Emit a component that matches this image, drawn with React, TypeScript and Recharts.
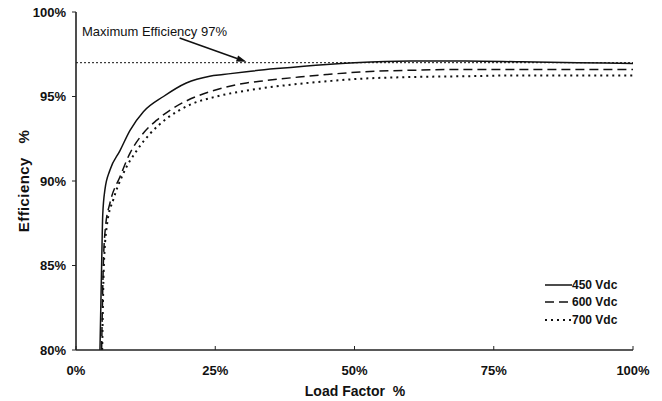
import React from "react";
import {
  LineChart,
  Line,
  XAxis,
  YAxis,
  ReferenceLine,
  Legend,
} from "recharts";

// values (load factor %, efficiency %)
const load450 = [4.3, 4.6, 4.8, 5.2, 6.1, 7.9, 9.7, 12.1, 15.7, 19.8, 24, 26.4, 30.6, 36, 45, 50, 60, 70, 80, 90, 100];
const eff450 = [80, 85, 88, 89.5, 90.65, 91.8, 93.0, 94.1, 95.0, 95.8, 96.2, 96.3, 96.47, 96.65, 96.9, 97.0, 97.1, 97.1, 97.05, 97.0, 96.95];

const load600 = [4.6, 4.9, 5.3, 6.1, 7.9, 9.7, 12, 14.5, 17.4, 21.6, 25.2, 30.6, 33, 40, 45, 51, 60, 70, 80, 90, 100];
const eff600 = [80, 85, 87.3, 88.7, 90.25, 91.65, 92.8, 93.6, 94.3, 95.0, 95.4, 95.8, 95.9, 96.15, 96.3, 96.45, 96.55, 96.6, 96.6, 96.6, 96.6];

const load700 = [4.7, 5.0, 5.6, 6.7, 8.5, 10.9, 13.3, 16.3, 20.4, 25.2, 30.6, 36, 40, 45, 51, 60, 70, 80, 90, 100];
const eff700 = [80, 85, 87.5, 88.9, 90.45, 91.8, 92.8, 93.7, 94.5, 95.0, 95.35, 95.6, 95.75, 95.9, 96.05, 96.15, 96.2, 96.25, 96.25, 96.25];

const xTicks = [0, 25, 50, 75, 100];
const yTicks = [80, 85, 90, 95, 100];
const maxEfficiency = 97;
// annotation arrow, in data units
const arrowFrom = { x: 18.6, y: 98.46 };
const arrowTo = { x: 30.6, y: 97.05 };

const toPoints = (xs: number[], ys: number[]) =>
  xs.map((x, i) => ({ x, y: ys[i] }));

const series = [
  { name: "450 Vdc", data: toPoints(load450, eff450), dash: undefined, width: 1.5 },
  { name: "600 Vdc", data: toPoints(load600, eff600), dash: "9 5", width: 1.5 },
  { name: "700 Vdc", data: toPoints(load700, eff700), dash: "2 4", width: 2 },
];

const FONT = "Arial, 'Liberation Sans', sans-serif";
const INK = "#111";

function Arrow(props: any) {
  const { x1, y1, x2, y2 } = props;
  const ang = Math.atan2(y2 - y1, x2 - x1);
  const len = 10;
  const hw = 3.2;
  const bx = x2 - len * Math.cos(ang);
  const by = y2 - len * Math.sin(ang);
  const px = -Math.sin(ang) * hw;
  const py = Math.cos(ang) * hw;
  return (
    <g>
      <line x1={x1} y1={y1} x2={bx} y2={by} stroke={INK} strokeWidth={1.5} />
      <polygon
        points={`${x2},${y2} ${bx + px},${by + py} ${bx - px},${by - py}`}
        fill={INK}
      />
    </g>
  );
}

function LegendBox() {
  return (
    <div style={{ fontFamily: FONT, fontWeight: "bold", fontSize: 12, color: INK }}>
      {series.map((s) => (
        <div key={s.name} style={{ display: "flex", alignItems: "center", height: 17.5 }}>
          <svg width={27} height={6} style={{ display: "block" }}>
            <line
              x1={0}
              y1={3}
              x2={27}
              y2={3}
              stroke={INK}
              strokeWidth={s.width}
              strokeDasharray={s.dash}
            />
          </svg>
          <span>{s.name}</span>
        </div>
      ))}
    </div>
  );
}

export default function App() {
  return (
    <div style={{ position: "absolute", left: 0, top: 0, background: "#fff" }}>
      <LineChart
        width={662}
        height={401}
        margin={{ top: 12, right: 29, left: 0, bottom: 0 }}
      >
        <XAxis
          dataKey="x"
          type="number"
          domain={[0, 100]}
          ticks={xTicks}
          tickFormatter={(v) => `${v}%`}
          height={51}
          tickSize={-4}
          tickMargin={20}
          axisLine={{ stroke: "#222", strokeWidth: 1.6 }}
          tickLine={{ stroke: "#222" }}
          tick={{ fontSize: 13, fontWeight: "bold", fill: INK, fontFamily: FONT }}
          label={{
            content: () => (
              <text
                x={355}
                y={396}
                textAnchor="middle"
                fontFamily={FONT}
                fontSize={14}
                fontWeight="bold"
                fill={INK}
              >
                {"Load Factor\u00a0\u00a0%"}
              </text>
            ),
          }}
        />
        <XAxis
          xAxisId="top"
          orientation="top"
          type="number"
          domain={[0, 100]}
          height={0}
          tick={false}
          tickLine={false}
          axisLine={{ stroke: "#222", strokeWidth: 1.6 }}
        />
        <YAxis
          type="number"
          domain={[80, 100]}
          ticks={yTicks}
          allowDataOverflow
          tickFormatter={(v) => `${v}%`}
          width={76}
          tickSize={4}
          tickMargin={6}
          axisLine={{ stroke: "#222", strokeWidth: 1.6 }}
          tickLine={{ stroke: "#222" }}
          tick={{ fontSize: 13, fontWeight: "bold", fill: INK, fontFamily: FONT }}
          label={{
            content: () => (
              <text
                x={23}
                y={181}
                transform="rotate(-90 23 181)"
                textAnchor="middle"
                dominantBaseline="central"
                fontFamily={FONT}
                fontSize={15}
                fontWeight="bold"
                letterSpacing={0.4}
                fill={INK}
              >
                {"Efficiency\u00a0\u00a0\u00a0%"}
              </text>
            ),
          }}
        />
        <YAxis
          yAxisId="right"
          orientation="right"
          type="number"
          domain={[80, 100]}
          width={0}
          tick={false}
          tickLine={false}
          axisLine={{ stroke: "#222", strokeWidth: 1.6 }}
        />
        <ReferenceLine
          y={maxEfficiency}
          stroke={INK}
          strokeWidth={1}
          strokeDasharray="2 2"
          label={{
            content: (p: any) => (
              <text
                x={p.viewBox.x + 6}
                y={p.viewBox.y - 27}
                fontFamily={FONT}
                fontSize={13}
                fill={INK}
              >
                Maximum Efficiency 97%
              </text>
            ),
          }}
        />
        <ReferenceLine segment={[arrowFrom, arrowTo]} shape={Arrow} />
        {series.map((s) => (
          <Line
            key={s.name}
            name={s.name}
            data={s.data}
            dataKey="y"
            type="monotone"
            stroke={INK}
            strokeWidth={s.width}
            strokeDasharray={s.dash}
            dot={false}
            activeDot={false}
            isAnimationActive={false}
          />
        ))}
        <Legend
          layout="vertical"
          align="center"
          verticalAlign="middle"
          content={() => <LegendBox />}
          wrapperStyle={{ position: "absolute", left: 545, top: 276, width: "auto" }}
        />
      </LineChart>
    </div>
  );
}
